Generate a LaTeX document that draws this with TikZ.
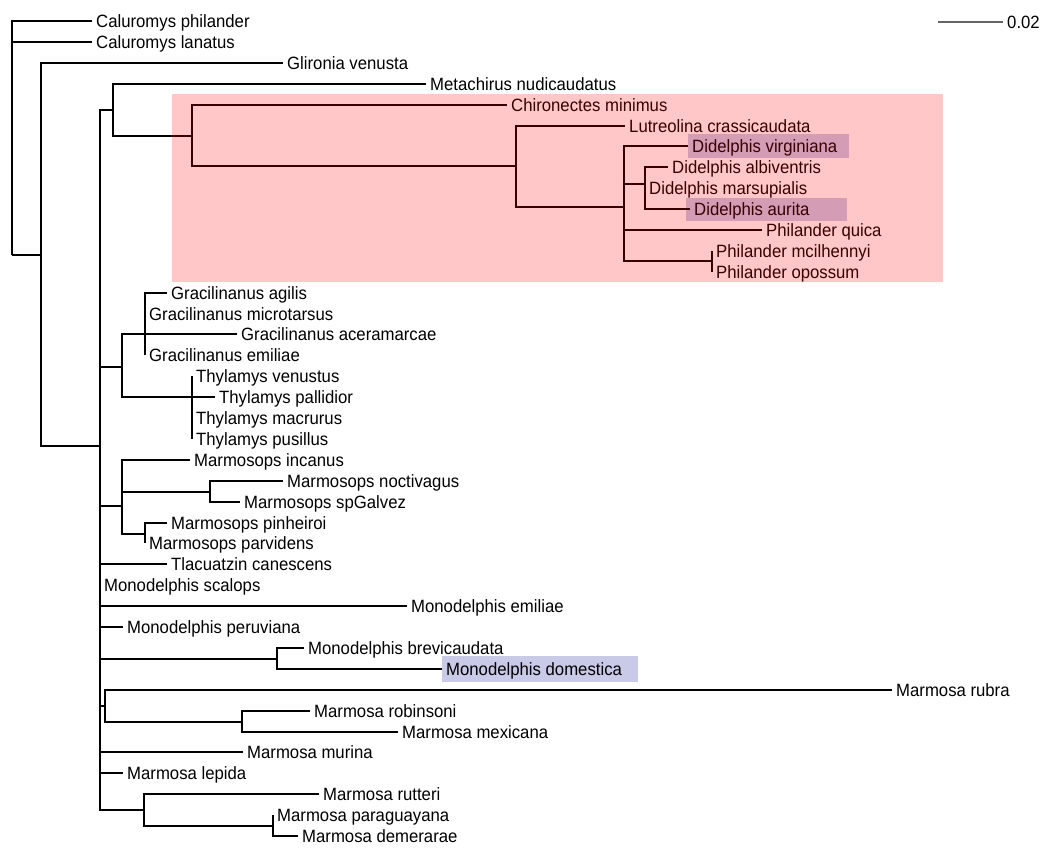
\documentclass[tikz,border=0pt]{standalone}
\usepackage{fontspec}
\setmainfont{Liberation Sans}[FakeStretch=0.94]
\newcommand\labfont{\fontsize{17.8}{21}\selectfont}
\definecolor{lav}{RGB}{201,202,232}
\definecolor{sbgrey}{RGB}{100,100,100}
\tikzset{
  br/.style={line width=2.2pt, line join=miter},
  lf/.style={anchor=west, inner xsep=4pt, inner ysep=0pt, text height=12.7pt, text depth=0pt, font=\labfont},
  hl/.style={fill=lav, draw=none},
  clade/.style={fill=red, fill opacity=0.22, draw=none},
  scalebar/.style={line width=1.6pt, draw=sbgrey}
}
\begin{document}
\begin{tikzpicture}[x=1pt, y=-1pt]
\useasboundingbox (0,0) rectangle (1050,854);
% highlight boxes behind labels
\fill[hl] (688,134) rectangle (849,158);
\fill[hl] (686,198) rectangle (847,221);
\fill[hl] (442,656) rectangle (638,682);
% internal nodes
\coordinate (root) at (12,255);
\coordinate (cal) at (12,31);
\coordinate (n1) at (41,255);
\coordinate (n2) at (100,446);
\coordinate (n3) at (113,110);
\coordinate (n4) at (192,136);
\coordinate (n5) at (516,166);
\coordinate (n6) at (624,207);
\coordinate (n7) at (645,184);
\coordinate (n8) at (712,261);
\coordinate (n9) at (122,367);
\coordinate (n10) at (145,334);
\coordinate (n11) at (192,397);
\coordinate (n12) at (122,506);
\coordinate (n13) at (210,492);
\coordinate (n14) at (145,534);
\coordinate (n15) at (277,659);
\coordinate (n16) at (105,706);
\coordinate (n17) at (242,722);
\coordinate (n18) at (144,810);
\coordinate (n19) at (273,826);
% leaves
\node[lf] (cphil) at (92,21) {Caluromys philander};
\node[lf] (clan) at (92,42) {Caluromys lanatus};
\node[lf] (glir) at (283,63) {Glironia venusta};
\node[lf] (meta) at (426,84) {Metachirus nudicaudatus};
\node[lf] (chir) at (507,105) {Chironectes minimus};
\node[lf] (lutr) at (625,126) {Lutreolina crassicaudata};
\node[lf] (dvir) at (688,146) {Didelphis virginiana};
\node[lf] (dalb) at (668,167) {Didelphis albiventris};
\node[lf] (dmar) at (645,188) {Didelphis marsupialis};
\node[lf] (daur) at (690,209) {Didelphis aurita};
\node[lf] (pqui) at (762,230) {Philander quica};
\node[lf] (pmci) at (712,251) {Philander mcilhennyi};
\node[lf] (popo) at (712,272) {Philander opossum};
\node[lf] (gagi) at (167,293) {Gracilinanus agilis};
\node[lf] (gmic) at (145,314) {Gracilinanus microtarsus};
\node[lf] (gace) at (237,334) {Gracilinanus aceramarcae};
\node[lf] (gemi) at (145,355) {Gracilinanus emiliae};
\node[lf] (tven) at (192,376) {Thylamys venustus};
\node[lf] (tpal) at (215,397) {Thylamys pallidior};
\node[lf] (tmac) at (192,418) {Thylamys macrurus};
\node[lf] (tpus) at (192,439) {Thylamys pusillus};
\node[lf] (minc) at (190,460) {Marmosops incanus};
\node[lf] (mnoc) at (283,481) {Marmosops noctivagus};
\node[lf] (mspg) at (240,502) {Marmosops spGalvez};
\node[lf] (mpin) at (167,523) {Marmosops pinheiroi};
\node[lf] (mpar) at (145,543) {Marmosops parvidens};
\node[lf] (tcan) at (167,564) {Tlacuatzin canescens};
\node[lf] (msca) at (100,585) {Monodelphis scalops};
\node[lf] (memi) at (407,606) {Monodelphis emiliae};
\node[lf] (mper) at (123,627) {Monodelphis peruviana};
\node[lf] (mbre) at (304,648) {Monodelphis brevicaudata};
\node[lf] (mdom) at (442,669) {Monodelphis domestica};
\node[lf] (mrub) at (892,690) {Marmosa rubra};
\node[lf] (mrob) at (310,711) {Marmosa robinsoni};
\node[lf] (mmex) at (398,732) {Marmosa mexicana};
\node[lf] (mmur) at (243,752) {Marmosa murina};
\node[lf] (mlep) at (123,773) {Marmosa lepida};
\node[lf] (mrut) at (319,794) {Marmosa rutteri};
\node[lf] (mpgy) at (273,815) {Marmosa paraguayana};
\node[lf] (mdem) at (298,836) {Marmosa demerarae};
% branches
\draw[br] (root) |- (cal);
\draw[br] (root) |- (n1);
\draw[br] (cal) |- (cphil.west);
\draw[br] (cal) |- (clan.west);
\draw[br] (n1) |- (glir.west);
\draw[br] (n1) |- (n2);
\draw[br] (n2) |- (n3);
\draw[br] (n3) |- (meta.west);
\draw[br] (n3) |- (n4);
\draw[br] (n4) |- (chir.west);
\draw[br] (n4) |- (n5);
\draw[br] (n5) |- (lutr.west);
\draw[br] (n5) |- (n6);
\draw[br] (n6) |- (dvir.west);
\draw[br] (n6) |- (n7);
\draw[br] (n6) |- (pqui.west);
\draw[br] (n6) |- (n8);
\draw[br] (n7) |- (dalb.west);
\draw[br] (n7) |- (dmar.west);
\draw[br] (n7) |- (daur.west);
\draw[br] (n8) |- (pmci.west);
\draw[br] (n8) |- (popo.west);
\draw[br] (n2) |- (n9);
\draw[br] (n9) |- (n10);
\draw[br] (n9) |- (n11);
\draw[br] (n10) |- (gagi.west);
\draw[br] (n10) |- (gmic.west);
\draw[br] (n10) |- (gace.west);
\draw[br] (n10) |- (gemi.west);
\draw[br] (n11) |- (tven.west);
\draw[br] (n11) |- (tpal.west);
\draw[br] (n11) |- (tmac.west);
\draw[br] (n11) |- (tpus.west);
\draw[br] (n2) |- (n12);
\draw[br] (n12) |- (minc.west);
\draw[br] (n12) |- (n13);
\draw[br] (n12) |- (n14);
\draw[br] (n13) |- (mnoc.west);
\draw[br] (n13) |- (mspg.west);
\draw[br] (n14) |- (mpin.west);
\draw[br] (n14) |- (mpar.west);
\draw[br] (n2) |- (tcan.west);
\draw[br] (n2) |- (msca.west);
\draw[br] (n2) |- (memi.west);
\draw[br] (n2) |- (mper.west);
\draw[br] (n2) |- (n15);
\draw[br] (n15) |- (mbre.west);
\draw[br] (n15) |- (mdom.west);
\draw[br] (n2) |- (n16);
\draw[br] (n16) |- (mrub.west);
\draw[br] (n16) |- (n17);
\draw[br] (n17) |- (mrob.west);
\draw[br] (n17) |- (mmex.west);
\draw[br] (n2) |- (mmur.west);
\draw[br] (n2) |- (mlep.west);
\draw[br] (n2) |- (n18);
\draw[br] (n18) |- (mrut.west);
\draw[br] (n18) |- (n19);
\draw[br] (n19) |- (mpgy.west);
\draw[br] (n19) |- (mdem.west);
% scale bar
\coordinate (sb1) at (938,22);
\node[lf] (sbl) at (1003,22) {0.02};
\draw[scalebar] (sb1) -- (sbl.west);
% clade overlay
\fill[clade] (172,94) rectangle (943,282);
\end{tikzpicture}
\end{document}
